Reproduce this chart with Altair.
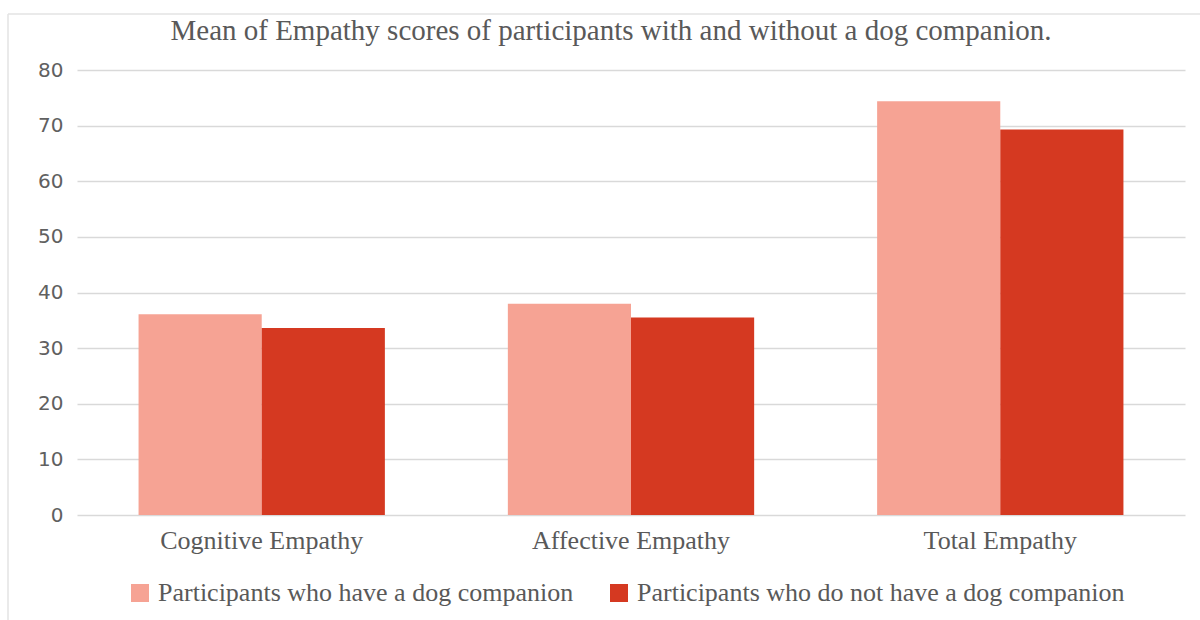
import altair as alt
import pandas as pd

title_text = "Mean of Empathy scores of participants with and without a dog companion."
categories = ["Cognitive Empathy", "Affective Empathy", "Total Empathy"]
groups = [
    "Participants who have a dog companion",
    "Participants who do not have a dog companion",
]
with_dog = [36.1, 38.0, 74.4]
without_dog = [33.6, 35.5, 69.3]
colors = ["#F6A394", "#D53921"]

rows = []
for i, cat in enumerate(categories):
    rows.append({"category": cat, "group": groups[0], "score": with_dog[i]})
    rows.append({"category": cat, "group": groups[1], "score": without_dog[i]})
df = pd.DataFrame(rows)
heading_df = pd.DataFrame({"text": [title_text]})

serif = "Liberation Serif"
grey = "#595959"

bars = alt.Chart(df).mark_bar().encode(
    x=alt.X(
        "category:N",
        sort=categories,
        scale=alt.Scale(paddingInner=0.333, paddingOuter=0.1667),
        axis=alt.Axis(
            title=None,
            labelAngle=0,
            labelFont=serif,
            labelFontSize=26,
            labelColor=grey,
            labelPadding=12,
            labelLimit=0,
            ticks=False,
            domain=False,
        ),
    ),
    xOffset=alt.XOffset("group:N", sort=groups),
    y=alt.Y(
        "score:Q",
        scale=alt.Scale(domain=[0, 80]),
        axis=alt.Axis(
            title=None,
            values=list(range(0, 81, 10)),
            labelFont="DejaVu Sans",
            labelFontSize=20,
            labelColor="#606060",
            labelPadding=14,
            ticks=False,
            domain=False,
            gridColor="#D9D9D9",
            gridWidth=1.5,
        ),
    ),
    color=alt.Color(
        "group:N",
        sort=groups,
        scale=alt.Scale(domain=groups, range=colors),
        legend=alt.Legend(
            title=None,
            orient="none",
            direction="horizontal",
            legendX=50,
            legendY=510,
            symbolType="square",
            symbolSize=324,
            symbolStrokeWidth=0,
            symbolOpacity=1,
            labelFont=serif,
            labelFontSize=26,
            labelColor=grey,
            labelOffset=5,
            labelLimit=0,
            columnPadding=32,
        ),
    ),
)

# chart heading, drawn as a single text mark above the plot
heading = alt.Chart(heading_df).mark_text(
    font=serif, fontSize=29, color=grey, align="center", baseline="alphabetic"
).encode(x=alt.value(534), y=alt.value(-30), text="text:N")

# thin outer frame along the top and left edges
frame_top = alt.Chart(heading_df).mark_rule(color="#E3E3E3", strokeWidth=1.5).encode(
    x=alt.value(-69), x2=alt.value(1130), y=alt.value(-56)
)
frame_left = alt.Chart(heading_df).mark_rule(color="#E3E3E3", strokeWidth=1.5).encode(
    x=alt.value(-69), y=alt.value(-56), y2=alt.value(560)
)

chart = (
    alt.layer(bars, heading, frame_top, frame_left)
    .properties(
        width=1108,
        height=445,
        padding={"left": 77, "top": 70, "right": 15, "bottom": 105},
        autosize=alt.AutoSizeParams(type="none"),
        background="white",
    )
    .configure_view(stroke=None)
)

chart.save("out.html", embed_options={"renderer": "svg", "actions": False})
